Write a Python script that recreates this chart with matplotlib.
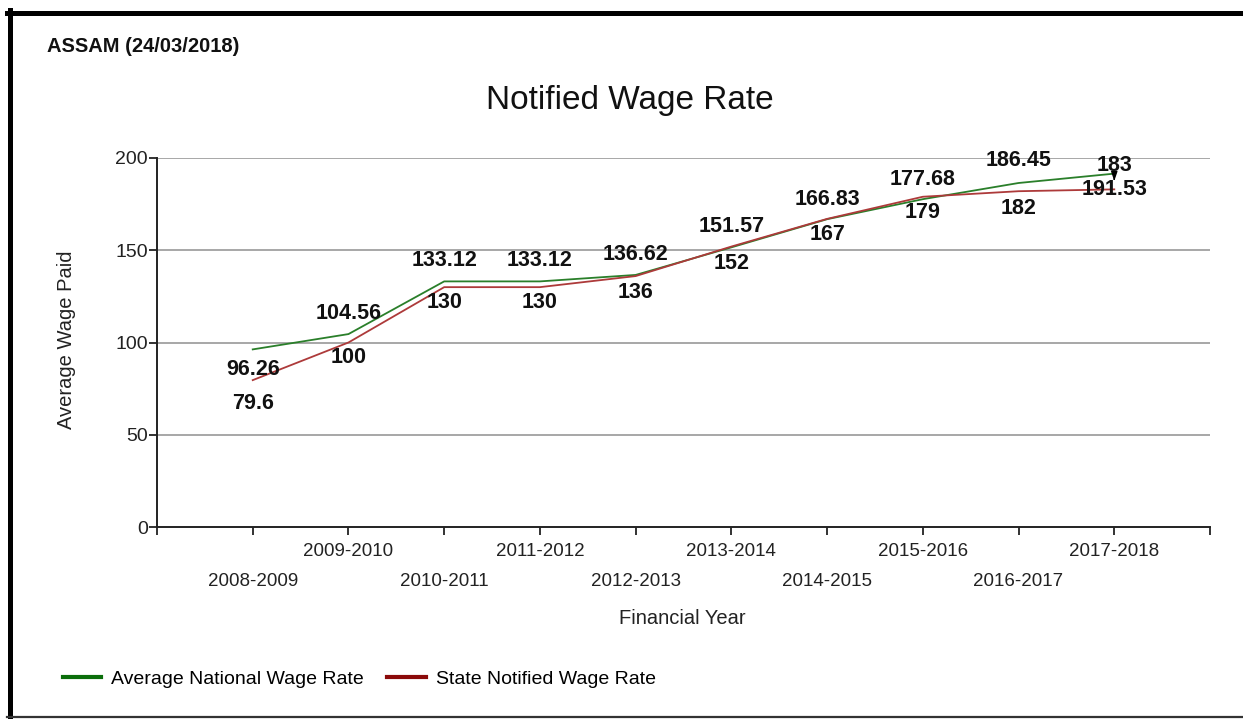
import matplotlib
matplotlib.use('Agg')
import matplotlib.pyplot as plt
from matplotlib.lines import Line2D

plt.rcParams['font.family'] = ['Liberation Sans', 'DejaVu Sans']

# data
years = ['2008-2009', '2009-2010', '2010-2011', '2011-2012', '2012-2013',
         '2013-2014', '2014-2015', '2015-2016', '2016-2017', '2017-2018']
national = [96.26, 104.56, 133.12, 133.12, 136.62, 151.57, 166.83, 177.68, 186.45, 191.53]
state = [79.6, 100, 130, 130, 136, 152, 167, 179, 182, 183]
yticks = [0, 50, 100, 150, 200]

# label offsets in pixels (dy) relative to each point
nat_dy = [-20, 21, 21, 21, 20, 21, 20, 20, 22, -16]
state_dy = [-23, -15, -15, -15, -16, -17, -16, -16, -17, 24]

W, H = 1243, 719
fig = plt.figure(figsize=(W/100, H/100), dpi=100)
fig.patch.set_facecolor('white')

def fx(px):
    return px / W

def fy(py):
    return 1 - py / H

ax = fig.add_axes([fx(157), fy(527), fx(1210) - fx(157), fy(158) - fy(527)])
xs = list(range(1, len(years) + 1))

green = '#2a7f2a'
red = '#ad3a3a'
ax.plot(xs, national, color=green, lw=1.3, zorder=3)
ax.plot(xs, state, color=red, lw=1.3, zorder=3)

ax.set_xlim(0, len(years) + 1)
ax.set_ylim(0, 200)
ax.set_yticks(yticks)
ax.set_yticklabels([str(v) for v in yticks], fontsize=14, color='#222222')
ax.set_xticks(range(0, len(years) + 2))
ax.set_xticklabels([])
ax.tick_params(axis='both', length=6, width=1.3, color='#222222', pad=0.5)
for v in yticks[1:]:
    ax.axhline(v, color='#a0a0a0', lw=1.3, zorder=1)
for s in ['top', 'right']:
    ax.spines[s].set_visible(False)
for s in ['left', 'bottom']:
    ax.spines[s].set_linewidth(1.4)
    ax.spines[s].set_color('#222222')

# staggered category labels
for i, (x, lab) in enumerate(zip(xs, years)):
    dy = -55 if i % 2 == 0 else -24
    ax.annotate(lab, xy=(x, 0), xycoords=('data', 'axes fraction'),
                xytext=(0, dy), textcoords='offset pixels',
                ha='center', va='center', fontsize=13.5, color='#222222')

# value labels
for x, v, dy in zip(xs, national, nat_dy):
    ax.annotate(f'{v:g}', xy=(x, v), xytext=(0, dy), textcoords='offset pixels',
                ha='center', va='center', fontsize=15.5, fontweight='bold',
                color='#111111', zorder=4)
for i, (x, v, dy) in enumerate(zip(xs, state, state_dy)):
    arrow = None
    if i == len(state) - 1:
        # leader from the shifted label back to its point
        arrow = dict(arrowstyle='-|>,head_width=0.12,head_length=0.35',
                     color='black', lw=1.0, shrinkA=0, shrinkB=6)
    ax.annotate(f'{v:g}', xy=(x, v), xytext=(0, dy), textcoords='offset pixels',
                ha='center', va='center', fontsize=15.5, fontweight='bold',
                color='#111111', zorder=4, arrowprops=arrow)

fig.text(fx(630), fy(100), 'Notified Wage Rate', ha='center', va='center',
         fontsize=24, color='#111111')
fig.text(fx(47), fy(46), 'ASSAM (24/03/2018)', ha='left', va='center',
         fontsize=14.5, fontweight='bold', color='#111111')
fig.text(fx(682), fy(618), 'Financial Year', ha='center', va='center',
         fontsize=14.5, color='#222222')
fig.text(fx(66), fy(340), 'Average Wage Paid', ha='center', va='center',
         rotation=90, fontsize=14.5, color='#222222')

handles = [Line2D([], [], color='#0b6e0b', lw=3),
           Line2D([], [], color='#8b0a0a', lw=3)]
fig.legend(handles, ['Average National Wage Rate', 'State Notified Wage Rate'],
           loc='center left', bbox_to_anchor=(fx(45), fy(679)), ncol=2,
           frameon=False, fontsize=14, handlelength=2.0, handletextpad=0.5,
           columnspacing=1.2)

# frame around the chart
fig.add_artist(Line2D([fx(9.5), fx(9.5)], [fy(10), fy(717)], color='black', lw=3.6))
fig.add_artist(Line2D([fx(7), fx(1243)], [fy(12.5), fy(12.5)], color='black', lw=3.6))
fig.add_artist(Line2D([fx(7), fx(1243)], [fy(716.5), fy(716.5)], color='#333333', lw=1.6))

fig.savefig('out.png', dpi=100)
